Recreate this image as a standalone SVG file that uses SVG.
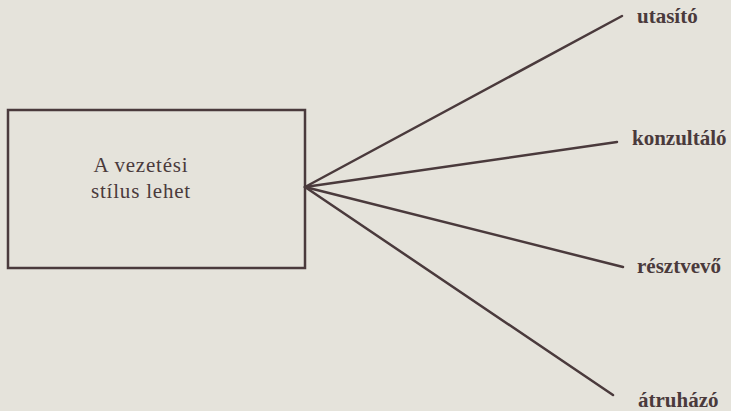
<svg xmlns="http://www.w3.org/2000/svg" width="731" height="411" viewBox="0 0 731 411">
<style>
.bg{fill:#e5e3db}
.box{fill:none;stroke:#4a3a3c;stroke-width:2.5}
.ln{stroke:#4a3a3c;stroke-width:2.5;stroke-linecap:round;fill:none}
.t{font-family:"Liberation Serif",serif;font-size:21px;fill:#4a3a3c;letter-spacing:0.8px}
.lb{font-family:"Liberation Serif",serif;font-size:21px;fill:#4a3a3c;font-weight:bold}
</style>
<rect class="bg" x="0" y="0" width="731" height="411"/>
<g id="node-main">
<rect class="box" x="8" y="110" width="297" height="158"/>
<text class="t" x="141" y="172" text-anchor="middle">A vezetési</text>
<text class="t" x="141" y="198" text-anchor="middle">stílus lehet</text>
</g>
<g id="connectors">
<line class="ln" x1="305" y1="187" x2="622" y2="16"/>
<line class="ln" x1="305" y1="187" x2="617" y2="142"/>
<line class="ln" x1="305" y1="187" x2="623" y2="267"/>
<line class="ln" x1="305" y1="187" x2="613" y2="395"/>
</g>
<g id="node-utasito"><text class="lb" x="637" y="23">utasító</text></g>
<g id="node-konzultalo"><text class="lb" x="632" y="145">konzultáló</text></g>
<g id="node-resztvevo"><text class="lb" x="637" y="273">résztvevő</text></g>
<g id="node-atruhazo"><text class="lb" x="638" y="407">átruházó</text></g>
</svg>
